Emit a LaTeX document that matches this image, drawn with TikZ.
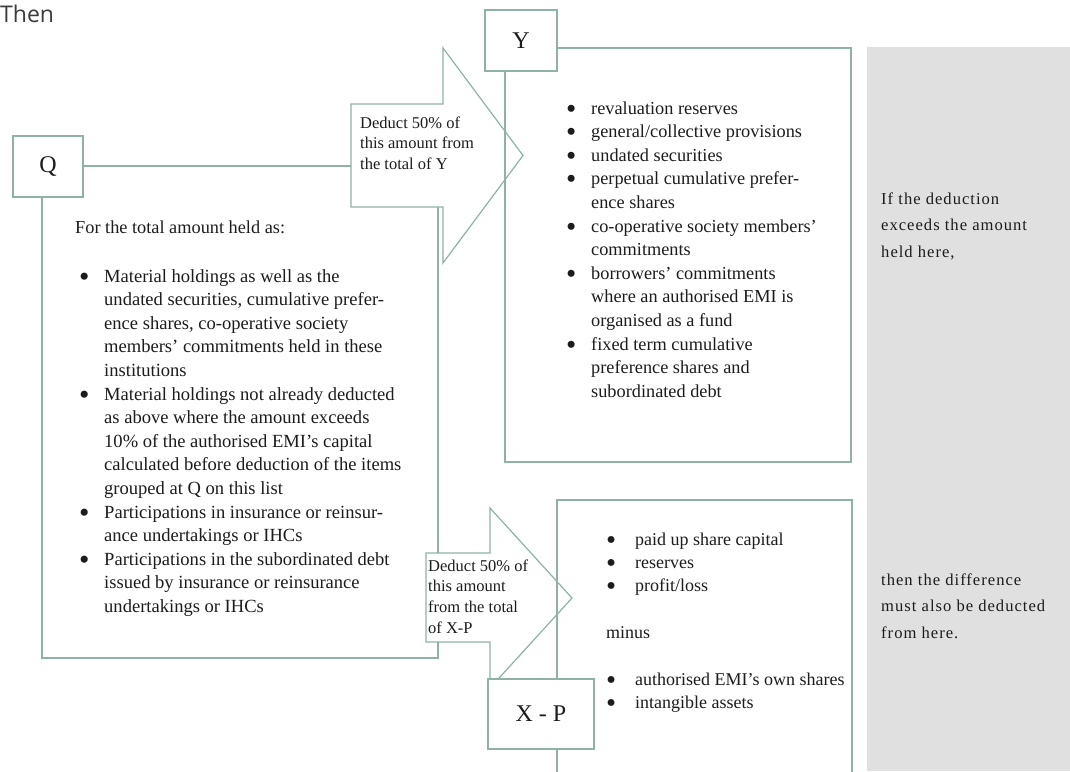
\documentclass[tikz,border=0pt]{standalone}
\usepackage{fontspec}
\setmainfont{Liberation Serif}
\newfontfamily\thenfont{Open Sans}
\newfontfamily\greyfont[LetterSpace=6]{Liberation Serif}
\definecolor{framecol}{RGB}{143,178,167}
\definecolor{panelcol}{RGB}{224,224,224}
\definecolor{inkcol}{RGB}{28,28,28}
\definecolor{thencol}{RGB}{60,60,60}
\newcommand\mybul[1][25pt]{\makebox[#1][l]{\smash{\raisebox{-4pt}{\scalebox{1.6}{•}}}}}
\newcommand\myind[1][25pt]{\hspace*{#1}}
\tikzset{
  frameline/.style={draw=framecol, line width=1.2pt},
  labelbox/.style={frameline, fill=white, inner sep=0pt, text=inkcol, font=\fontsize{24}{28}\selectfont},
  arrowshape/.style={frameline, fill=white, line join=miter},
  bodytext/.style={anchor=base west, inner sep=0pt, text=inkcol, font=\fontsize{18.3}{23.6}\selectfont},
  arrowtext/.style={anchor=base west, inner sep=0pt, text=inkcol, font=\fontsize{16.5}{20.8}\selectfont},
  greytext/.style={anchor=base west, inner sep=0pt, text=inkcol, font=\greyfont\fontsize{16.6}{26.7}\selectfont}
}
\begin{document}
\begin{tikzpicture}[x=1pt,y=-1pt]
\clip (0,0) rectangle (1070,771);
\fill[panelcol] (867,47) rectangle (1070,771);
% Q frame
\draw[frameline] (42,166) rectangle (438,658);
% arrows
\draw[arrowshape] (351,104) -- (443,104) -- (443,48) -- (523,155.5) -- (443,263) -- (443,207) -- (351,207) -- cycle;
\draw[arrowshape] (426,553) -- (490,553) -- (490,508) -- (572,598) -- (490,688) -- (490,642) -- (426,642) -- cycle;
% Y frame and lower frame
\draw[frameline] (505,48) rectangle (851,462);
\draw[frameline] (557,500) rectangle (852,800);
% label boxes
\node[labelbox, minimum width=70pt, minimum height=61pt] (qbox) at (48,166.5) {Q};
\node[labelbox, minimum width=72pt, minimum height=61pt] (ybox) at (521,40.5) {Y};
\node[labelbox, minimum width=106pt, minimum height=70pt] (xpbox) at (541,714) {X - P};
% top-left text
\node[anchor=base west, inner sep=0pt, text=thencol, font=\thenfont\fontsize{23}{28}\selectfont] (then) at (0,22) {Then};
% Q texts
\node[bodytext] (qhead) at (75,233) {For the total amount held as:};
\node[bodytext, font=\fontsize{18.55}{23.6}\selectfont] (qlist) at (79,282) {\begin{tabular}[t]{@{}l@{}}
\mybul Material holdings as well as the\\
\myind undated securities, cumulative prefer-\\
\myind ence shares, co-operative society\\
\myind members’ commitments held in these\\
\myind institutions\\
\mybul Material holdings not already deducted\\
\myind as above where the amount exceeds\\
\myind 10\% of the authorised EMI’s capital\\
\myind calculated before deduction of the items\\
\myind grouped at Q on this list\\
\mybul Participations in insurance or reinsur-\\
\myind ance undertakings or IHCs\\
\mybul Participations in the subordinated debt\\
\myind issued by insurance or reinsurance\\
\myind undertakings or IHCs
\end{tabular}};
% Y texts
\node[bodytext] (ylist) at (566,114) {\begin{tabular}[t]{@{}l@{}}
\mybul revaluation reserves\\
\mybul general/collective provisions\\
\mybul undated securities\\
\mybul perpetual cumulative prefer-\\
\myind ence shares\\
\mybul co-operative society members’\\
\myind commitments\\
\mybul borrowers’ commitments\\
\myind where an authorised EMI is\\
\myind organised as a fund\\
\mybul fixed term cumulative\\
\myind preference shares and\\
\myind subordinated debt
\end{tabular}};
% X-P texts
\node[bodytext, font=\fontsize{18}{23.4}\selectfont] (xplist) at (606,545) {\begin{tabular}[t]{@{}l@{}}
\mybul[29pt]paid up share capital\\
\mybul[29pt]reserves\\
\mybul[29pt]profit/loss\\
\\
minus\\
\\
\mybul[29pt]authorised EMI’s own shares\\
\mybul[29pt]intangible assets
\end{tabular}};
% arrow texts
\node[arrowtext] (ytext) at (360,128) {\begin{tabular}[t]{@{}l@{}}
Deduct 50\% of\\ this amount from\\ the total of Y
\end{tabular}};
\node[arrowtext] (xptext) at (428,571) {\begin{tabular}[t]{@{}l@{}}
Deduct 50\% of\\ this amount\\ from the total\\ of X-P
\end{tabular}};
% grey panel texts
\node[greytext] (g1) at (881,204) {\begin{tabular}[t]{@{}l@{}}
If the deduction\\ exceeds the amount\\ held here,
\end{tabular}};
\node[greytext] (g2) at (881,585) {\begin{tabular}[t]{@{}l@{}}
then the difference\\ must also be deducted\\ from here.
\end{tabular}};
\end{tikzpicture}
\end{document}
